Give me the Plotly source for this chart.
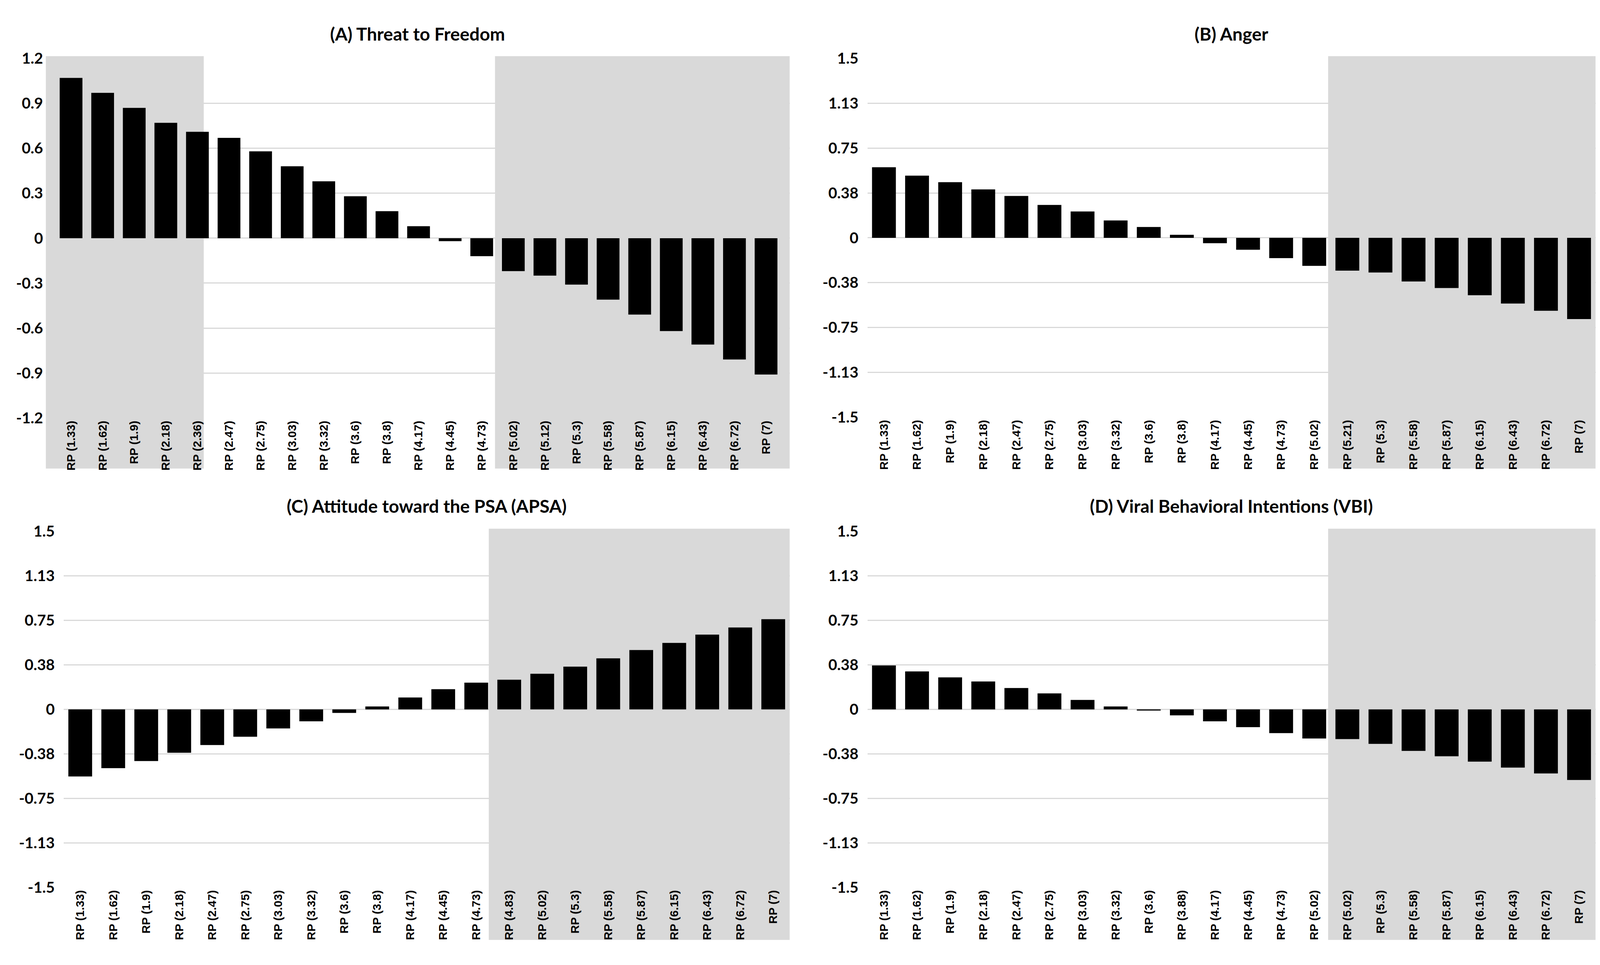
import plotly.graph_objects as go

# ---------------- data ----------------
labels_a = ["RP (1.33)", "RP (1.62)", "RP (1.9)", "RP (2.18)", "RP (2.36)", "RP (2.47)",
            "RP (2.75)", "RP (3.03)", "RP (3.32)", "RP (3.6)", "RP (3.8)", "RP (4.17)",
            "RP (4.45)", "RP (4.73)", "RP (5.02)", "RP (5.12)", "RP (5.3)", "RP (5.58)",
            "RP (5.87)", "RP (6.15)", "RP (6.43)", "RP (6.72)", "RP (7)"]
values_a = [1.07, 0.97, 0.87, 0.77, 0.71, 0.67, 0.58, 0.48, 0.38, 0.28, 0.18, 0.08,
            -0.02, -0.12, -0.22, -0.25, -0.31, -0.41, -0.51, -0.62, -0.71, -0.81, -0.91]

labels_b = ["RP (1.33)", "RP (1.62)", "RP (1.9)", "RP (2.18)", "RP (2.47)", "RP (2.75)",
            "RP (3.03)", "RP (3.32)", "RP (3.6)", "RP (3.8)", "RP (4.17)", "RP (4.45)",
            "RP (4.73)", "RP (5.02)", "RP (5.21)", "RP (5.3)", "RP (5.58)", "RP (5.87)",
            "RP (6.15)", "RP (6.43)", "RP (6.72)", "RP (7)"]
values_b = [0.59, 0.52, 0.465, 0.405, 0.35, 0.275, 0.22, 0.145, 0.09, 0.025, -0.045,
            -0.10, -0.17, -0.235, -0.275, -0.29, -0.365, -0.42, -0.48, -0.55, -0.61, -0.68]

labels_c = ["RP (1.33)", "RP (1.62)", "RP (1.9)", "RP (2.18)", "RP (2.47)", "RP (2.75)",
            "RP (3.03)", "RP (3.32)", "RP (3.6)", "RP (3.8)", "RP (4.17)", "RP (4.45)",
            "RP (4.73)", "RP (4.83)", "RP (5.02)", "RP (5.3)", "RP (5.58)", "RP (5.87)",
            "RP (6.15)", "RP (6.43)", "RP (6.72)", "RP (7)"]
values_c = [-0.565, -0.495, -0.435, -0.365, -0.30, -0.23, -0.16, -0.10, -0.03, 0.025,
            0.10, 0.17, 0.225, 0.25, 0.30, 0.36, 0.43, 0.50, 0.56, 0.63, 0.69, 0.76]

labels_d = ["RP (1.33)", "RP (1.62)", "RP (1.9)", "RP (2.18)", "RP (2.47)", "RP (2.75)",
            "RP (3.03)", "RP (3.32)", "RP (3.6)", "RP (3.88)", "RP (4.17)", "RP (4.45)",
            "RP (4.73)", "RP (5.02)", "RP (5.02)", "RP (5.3)", "RP (5.58)", "RP (5.87)",
            "RP (6.15)", "RP (6.43)", "RP (6.72)", "RP (7)"]
values_d = [0.37, 0.32, 0.27, 0.235, 0.18, 0.135, 0.08, 0.025, -0.01, -0.05, -0.10,
            -0.15, -0.20, -0.245, -0.25, -0.29, -0.35, -0.395, -0.44, -0.49, -0.54, -0.595]

titles = ["(A) Threat to Freedom", "(B) Anger",
          "(C) Attitude toward the PSA (APSA)", "(D) Viral Behavioral Intentions (VBI)"]

yticks_a = [1.2, 0.9, 0.6, 0.3, 0, -0.3, -0.6, -0.9, -1.2]
yticktext_a = ["1.2", "0.9", "0.6", "0.3", "0", "-0.3", "-0.6", "-0.9", "-1.2"]
yticks_bcd = [1.5, 1.125, 0.75, 0.375, 0, -0.375, -0.75, -1.125, -1.5]
yticktext_bcd = ["1.5", "1.13", "0.75", "0.38", "0", "-0.38", "-0.75", "-1.13", "-1.5"]

# ---------------- layout geometry (reference pixels, converted to fractions) ----------------
W, H = 4368, 2471
GRID = "#d9d9d9"
SHADE = "#d9d9d9"

panels = [
    dict(lab=labels_a, val=values_a, xpx=(125, 2156), ypx=(128, 1066), xr=(-0.8, 22.75), yr=(-1.2, 1.2),
         yt=yticks_a, ytt=yticktext_a, shades=[(-0.8, 4.2), (13.42, 22.75)], spx=(122, 1198), ty=64, so=6),
    dict(lab=labels_b, val=values_b, xpx=(2368, 4356), ypx=(128, 1064), xr=(-0.5, 21.5), yr=(-1.5, 1.5),
         yt=yticks_bcd, ytt=yticktext_bcd, shades=[(13.42, 21.5)], spx=(122, 1198), ty=64, so=22),
    dict(lab=labels_c, val=values_c, xpx=(174, 2156), ypx=(1362, 2291), xr=(-0.5, 21.5), yr=(-1.5, 1.5),
         yt=yticks_bcd, ytt=yticktext_bcd, shades=[(12.38, 21.5)], spx=(1355, 2428), ty=1296, so=22),
    dict(lab=labels_d, val=values_d, xpx=(2368, 4356), ypx=(1362, 2291), xr=(-0.5, 21.5), yr=(-1.5, 1.5),
         yt=yticks_bcd, ytt=yticktext_bcd, shades=[(13.42, 21.5)], spx=(1355, 2428), ty=1296, so=22),
]

fig = go.Figure()
shapes = []
annotations = []
layout_axes = {}

for i, p in enumerate(panels):
    n = i + 1
    xa = "x" if n == 1 else f"x{n}"
    ya = "y" if n == 1 else f"y{n}"
    xs = list(range(len(p["val"])))
    fig.add_trace(go.Bar(x=xs, y=p["val"], xaxis=xa, yaxis=ya,
                         marker=dict(color="black", line=dict(width=0)),
                         showlegend=False, hoverinfo="skip"))
    xdom = [p["xpx"][0] / W, p["xpx"][1] / W]
    ydom = [1 - p["ypx"][1] / H, 1 - p["ypx"][0] / H]
    layout_axes["xaxis" if n == 1 else f"xaxis{n}"] = dict(
        domain=xdom, anchor=ya, range=list(p["xr"]), tickmode="array",
        tickvals=xs, ticktext=p["lab"], tickangle=-90, showgrid=False,
        zeroline=False, showline=False, ticks="", fixedrange=True,
        tickfont=dict(family="Liberation Sans", size=30, color="black", weight="bold"),
    )
    layout_axes["yaxis" if n == 1 else f"yaxis{n}"] = dict(
        domain=ydom, anchor=xa, range=list(p["yr"]), tickmode="array",
        tickvals=p["yt"], ticktext=p["ytt"], showgrid=True, gridcolor=GRID,
        gridwidth=3, zeroline=False, showline=False, ticks="",
        ticklabelstandoff=p["so"], fixedrange=True,
        tickfont=dict(family="Lato", size=39, color="black", weight="bold"),
    )
    for (s0, s1) in p["shades"]:
        shapes.append(dict(type="rect", xref=xa, yref="paper", x0=s0, x1=s1,
                           y0=1 - p["spx"][1] / H, y1=1 - p["spx"][0] / H,
                           fillcolor=SHADE, line=dict(width=0), layer="below"))
    annotations.append(dict(text=titles[i], xref="paper", yref="paper",
                            x=(xdom[0] + xdom[1]) / 2, y=1 - p["ty"] / H,
                            xanchor="center", yanchor="middle", showarrow=False,
                            font=dict(family="Lato", size=46, color="black", weight="bold")))

fig.update_layout(
    autosize=True,
    margin=dict(l=0, r=0, t=0, b=0),
    paper_bgcolor="white", plot_bgcolor="rgba(0,0,0,0)",
    bargap=0.28, shapes=shapes, annotations=annotations,
    **layout_axes,
)

post = ("document.documentElement.style.margin='0';"
        "document.body.style.margin='0';document.body.style.overflow='hidden';"
        "var gd=document.getElementById('{plot_id}');"
        "gd.style.width='100vw';gd.style.height='100vh';"
        "Plotly.Plots.resize(gd);")

fig.write_html("out.html", default_width="100vw", default_height="100vh",
               config={"responsive": True, "displayModeBar": False},
               post_script=post)
